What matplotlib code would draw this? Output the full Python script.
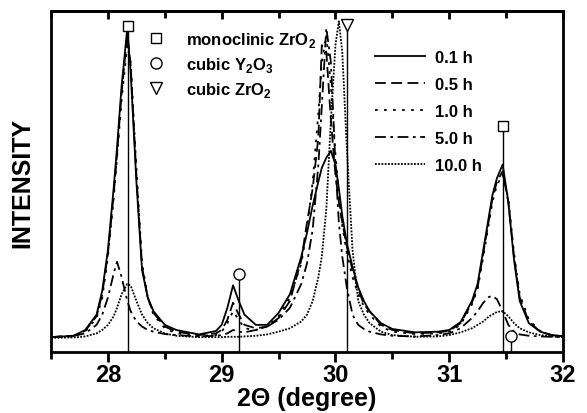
import matplotlib
matplotlib.use('Agg')
import matplotlib.pyplot as plt
from matplotlib.lines import Line2D

plt.rcParams['font.family'] = ['Liberation Sans', 'DejaVu Sans']
plt.rcParams['font.weight'] = 'bold'
plt.rcParams['mathtext.fontset'] = 'custom'
plt.rcParams['mathtext.rm'] = 'Liberation Sans:bold'
plt.rcParams['mathtext.bf'] = 'Liberation Sans:bold'

# 2-theta grid (degree)
two_theta = [27.5, 27.7, 27.8, 27.9, 27.95, 28.0, 28.05, 28.08, 28.12, 28.17,
             28.2, 28.25, 28.3, 28.35, 28.4, 28.5, 28.6, 28.8, 28.95, 29.0,
             29.05, 29.1, 29.15, 29.2, 29.3, 29.4, 29.5, 29.6, 29.7, 29.75,
             29.8, 29.85, 29.88, 29.92, 29.96, 30.0, 30.03, 30.06, 30.1, 30.15,
             30.2, 30.25, 30.3, 30.4, 30.5, 30.7, 30.9, 31.0, 31.1, 31.2,
             31.25, 31.3, 31.35, 31.38, 31.42, 31.47, 31.52, 31.57, 31.62, 31.7,
             31.8, 31.9, 32.0]

# intensities (arbitrary units)
i_01h = [4.4, 4.8, 6.5, 11, 18, 30, 48, 60, 78, 95,
         82, 50, 24, 16, 12, 8, 6.5, 5.2, 6.2, 8,
         13, 19.6, 15, 11, 8, 8, 11.5, 17, 28, 35,
         43, 50, 54, 57, 59, 55, 48, 40, 32, 25,
         19, 15, 12, 8.5, 6.8, 5.8, 6, 6.5, 8.8, 15,
         20, 30, 40, 46, 51, 55, 44, 27, 15, 8.5,
         6, 5, 4.7]
i_05h = [4.4, 4.8, 6.3, 10.5, 17, 29, 46, 58, 76, 93,
         84, 52, 25, 16, 11.5, 7.5, 6, 5, 5.5, 6.5,
         9.5, 14.5, 11, 8, 7, 7.5, 10, 15, 27, 38,
         48, 63, 90, 88, 68, 52, 44, 38, 31, 24,
         18.5, 14, 12, 8, 6.5, 5.5, 5.8, 6.2, 8.5, 14.5,
         19, 29, 39, 45, 50, 53, 44, 28, 16, 9,
         6, 5, 4.7]
i_10h = [4.4, 4.6, 6, 10, 16, 28, 45, 57, 74, 90,
         85, 54, 26, 16, 11, 7, 5.5, 4.8, 5, 6,
         8.5, 12, 9.5, 7, 6.5, 7.5, 10.5, 16, 26, 36,
         50, 70, 85, 93, 78, 58, 46, 37, 29, 22,
         17, 13.5, 11, 7.5, 6, 5.3, 5.5, 6, 8, 14,
         18.5, 28, 38, 44, 49, 52, 45, 29, 17, 9.5,
         6.2, 5, 4.6]
i_50h = [4.4, 4.8, 5.5, 8, 11, 16, 23, 26.5, 22, 15,
         12, 9, 7.5, 6.5, 6, 5.3, 5, 4.6, 4.8, 5,
         5.5, 6.5, 6, 5.8, 6.5, 7.5, 9.5, 13, 20, 26,
         36, 55, 72, 95, 85, 55, 38, 28, 19, 11,
         8, 6.8, 6, 5.2, 4.8, 4.6, 5, 5.5, 7, 10,
         12, 14.5, 16.2, 16.5, 15.5, 12, 8, 6, 5.2, 4.8,
         4.6, 4.5, 4.4]
i_100h = [4.2, 4.3, 4.6, 5.5, 6.5, 8, 10.5, 13, 17, 20,
          19.5, 15, 11, 8.5, 7, 5.5, 4.8, 4.4, 4.4, 4.4,
          4.5, 4.5, 4.5, 4.6, 4.8, 5.2, 6, 7, 9, 11,
          15, 22, 28, 42, 68, 90, 97, 88, 60, 30,
          15, 11, 8.5, 6, 5, 4.5, 4.6, 5, 5.8, 7,
          8, 9, 10.5, 11, 11.8, 12, 10.5, 8.5, 7, 5.8,
          5, 4.6, 4.4]

# reference reflections
mono_pos = [28.18, 31.47]
mono_h = [95.6, 66.3]
y2o3_pos = [29.15, 31.54]
y2o3_h = [23, 4.7]
cub_pos = [30.1]
cub_h = [96]

labels = ['0.1 h', '0.5 h', '1.0 h', '5.0 h', '10.0 h']
series = [i_01h, i_05h, i_10h, i_50h, i_100h]
styles = ['-', (0, (6, 3)), (0, (1.5, 3.5)), (0, (6, 2.5, 1.5, 2.5)), (0, (1, 0.8))]

fig = plt.figure(figsize=(5.87, 4.14), dpi=100)
ax = fig.add_axes([0.087, 0.147, 0.872, 0.824])

for y, lab, ls in zip(series, labels, styles):
    ax.plot(two_theta, y, color='black', linestyle=ls, linewidth=1.3, label=lab)

ax.vlines(mono_pos, 0, mono_h, color='black', linewidth=1.0)
ax.vlines(y2o3_pos, 0, y2o3_h, color='black', linewidth=1.0)
ax.vlines(cub_pos, 0, cub_h, color='black', linewidth=1.0)
m1, = ax.plot(mono_pos, mono_h, 's', ms=7, mfc='white', mec='black', mew=1.0, ls='none')
m2, = ax.plot(y2o3_pos, y2o3_h, 'o', ms=8, mfc='white', mec='black', mew=1.0, ls='none')
m3, = ax.plot(cub_pos, cub_h, 'v', ms=9, mfc='white', mec='black', mew=1.0, ls='none')

ax.set_xlim(27.5, 32)
ax.set_ylim(0, 100)
ax.set_xticks([28, 29, 30, 31, 32])
ax.set_xticks([27.5, 28.5, 29.5, 30.5, 31.5], minor=True)
ax.set_yticks([])
ax.tick_params(axis='x', which='major', direction='out', length=7, width=2, labelsize=17, pad=1)
ax.tick_params(axis='x', which='minor', direction='out', length=5, width=2)
for s in ax.spines.values():
    s.set_linewidth(2)

top = ax.secondary_xaxis('top')
top.set_xticks([28, 29, 30, 31, 32])
top.set_xticks([27.5, 28.5, 29.5, 30.5, 31.5], minor=True)
top.tick_params(axis='x', which='major', direction='in', length=6, width=2, labeltop=False)
top.tick_params(axis='x', which='minor', direction='in', length=5, width=2)
top.spines['top'].set_linewidth(2)

ax.set_xlabel('2\u0398 (degree)', fontsize=18, fontweight='bold', labelpad=0)
ax.set_ylabel('INTENSITY', fontsize=18, fontweight='bold', labelpad=12)

leg1 = ax.legend([m1, m2, m3],
                 ['monoclinic ZrO$_\\mathbf{2}$', 'cubic Y$_\\mathbf{2}$O$_\\mathbf{3}$',
                  'cubic ZrO$_\\mathbf{2}$'],
                 loc='upper left', bbox_to_anchor=(0.175, 0.965), frameon=False,
                 fontsize=12, handlelength=1.0, handletextpad=1.3, labelspacing=0.38,
                 borderaxespad=0)
ax.add_artist(leg1)
handles = [Line2D([], [], color='black', linestyle=ls, linewidth=1.3) for ls in styles]
ax.legend(handles, labels, loc='upper left', bbox_to_anchor=(0.62, 0.905), frameon=False,
          fontsize=12, handlelength=3.0, handletextpad=0.6, labelspacing=0.72,
          borderaxespad=0)

fig.savefig('out.png', dpi=100)
